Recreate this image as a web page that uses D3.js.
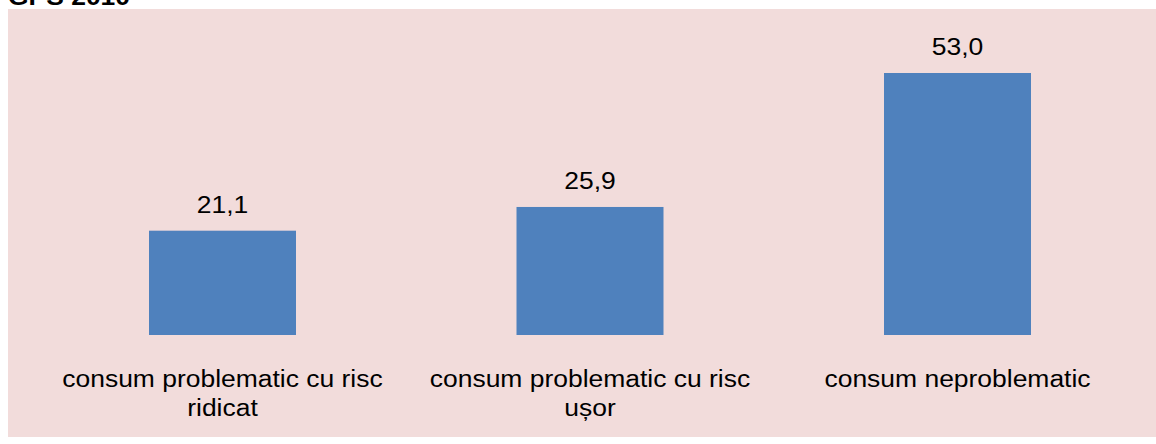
<!DOCTYPE html>
<html>
<head>
<meta charset="utf-8">
<script src="https://cdn.jsdelivr.net/npm/d3@7"></script>
<style>
  html, body { margin: 0; padding: 0; background: #ffffff; }
  svg { display: block; font-family: "Liberation Sans", Arial, sans-serif; }
</style>
</head>
<body>
<svg id="chart" width="1156" height="444"></svg>
<script>
// Chart data
const title = "GPS 2010";
const categories = [
  ["consum problematic cu risc", "ridicat"],
  ["consum problematic cu risc", "ușor"],
  ["consum neproblematic"]
];
const values = [21.1, 25.9, 53.0];
const valueLabels = ["21,1", "25,9", "53,0"];

const svg = d3.select("#chart");
const W = 1156, H = 444;

// Text is drawn slightly wide, as in the original export
const stretch = 1.08;
const fontSize = 24.5;

// Plot frame
const panel = { x: 8, y: 9, w: W - 8, h: 428 };
const plot = { left: 38.75, right: 1141.25, top: 73, bottom: 335 };

svg.append("rect")
  .attr("x", panel.x).attr("y", panel.y)
  .attr("width", panel.w).attr("height", panel.h)
  .attr("fill", "#f2dcdb");

// Title, mostly above the frame
svg.append("text")
  .attr("transform", `translate(8,5) scale(${stretch},1)`)
  .attr("font-size", fontSize).attr("font-weight", "bold")
  .attr("fill", "#000")
  .text(title);

const x = d3.scaleBand()
  .domain(d3.range(values.length))
  .range([plot.left, plot.right])
  .paddingInner(0.6)
  .paddingOuter(0.3);

const y = d3.scaleLinear()
  .domain([0, 53])
  .range([plot.bottom, plot.top]);

const cx = i => x(i) + x.bandwidth() / 2;

// Bars
svg.append("g").selectAll("rect")
  .data(values)
  .join("rect")
  .attr("x", (d, i) => x(i))
  .attr("y", d => y(d))
  .attr("width", x.bandwidth())
  .attr("height", d => y(0) - y(d))
  .attr("fill", "#4f81bd");

// Value labels
svg.append("g").selectAll("text")
  .data(values)
  .join("text")
  .attr("transform", (d, i) => `translate(${cx(i)},${y(d) - 18}) scale(${stretch},1)`)
  .attr("text-anchor", "middle")
  .attr("font-size", fontSize)
  .attr("fill", "#000")
  .text((d, i) => valueLabels[i]);

// Category labels
const cat = svg.append("g").selectAll("text")
  .data(categories)
  .join("text")
  .attr("transform", (d, i) => `translate(${cx(i)},387) scale(${stretch},1)`)
  .attr("text-anchor", "middle")
  .attr("font-size", fontSize)
  .attr("fill", "#000");

cat.selectAll("tspan")
  .data(d => d)
  .join("tspan")
  .attr("x", 0)
  .attr("dy", (d, j) => j === 0 ? 0 : 29)
  .text(d => d);
</script>
</body>
</html>
